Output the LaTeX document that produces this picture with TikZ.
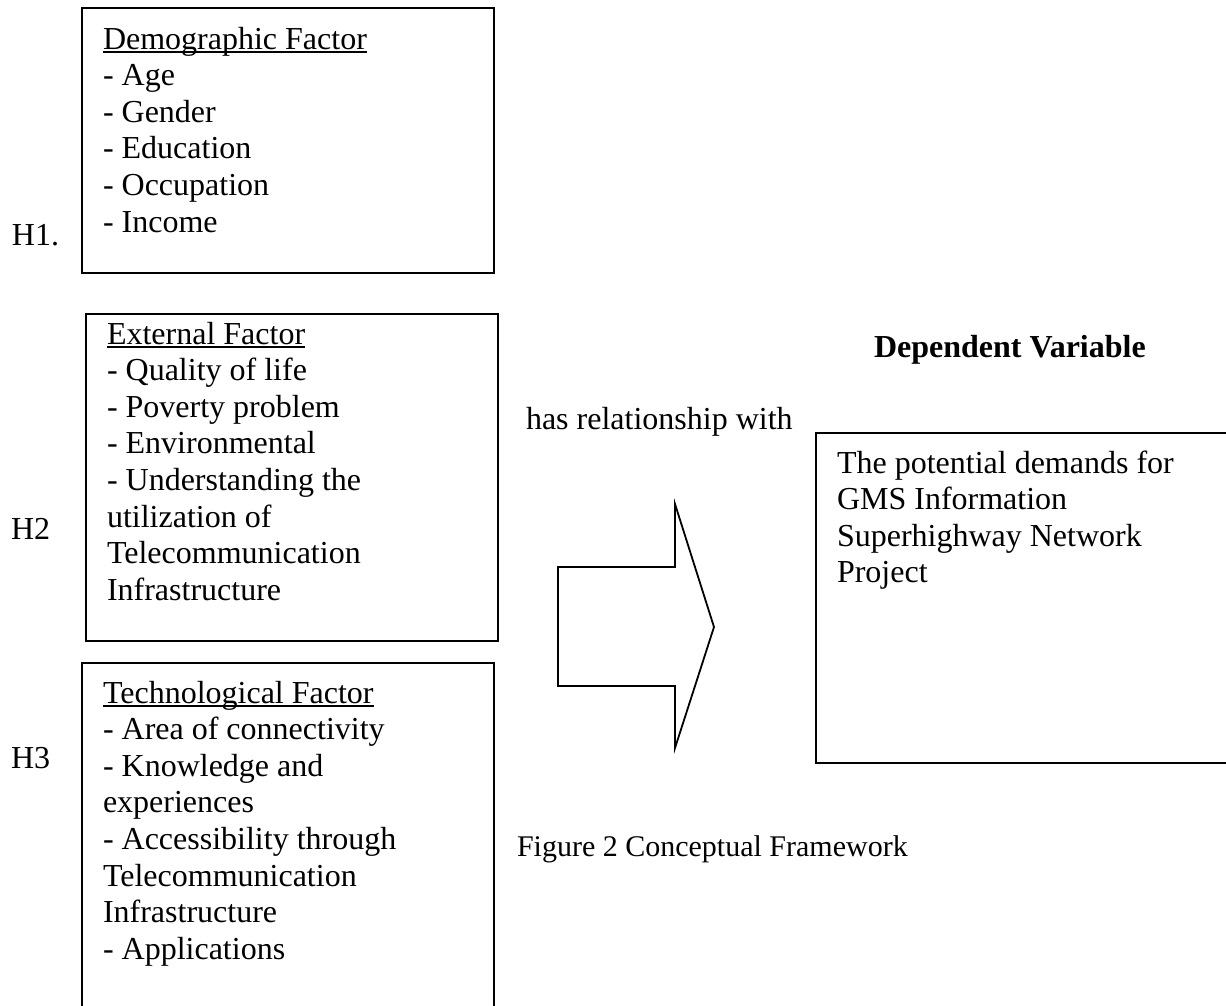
\documentclass[tikz,border=0pt]{standalone}
\usepackage{fontspec}
\setmainfont{Liberation Serif}
\usetikzlibrary{positioning}

% underlined heading: a thin rule just below the baseline
\newlength\headulwd
\newcommand\ulhead[1]{\settowidth\headulwd{#1}\rlap{\rule[-3.5pt]{\headulwd}{1.6pt}}#1}
% fixes the height of the first line so that north anchors sit at a known offset
\newcommand\firstln{\rule{0pt}{25pt}}

\tikzset{
  every node/.style={inner sep=0pt, outer sep=0pt},
  bodytext/.style={font=\fontsize{32}{36.6}\selectfont, align=left, anchor=north west},
  labeltext/.style={font=\fontsize{32}{36.6}\selectfont, anchor=base west},
  frame/.style={draw=black, line width=2pt, rectangle, anchor=north west},
  bigarrow/.style={draw=black, line width=1.8pt, line join=miter},
}

\begin{document}
\begin{tikzpicture}[x=1pt, y=-1pt]
  \useasboundingbox (0,0) rectangle (1226,1005);
  \clip (0,0) rectangle (1226,1005);

  % factor boxes on the left
  \node[frame, minimum width=412pt, minimum height=265pt] (demobox) at (82,8) {};
  \node[frame, minimum width=412pt, minimum height=327pt] (extbox)  at (86,314) {};
  \node[frame, minimum width=412pt, minimum height=380pt] (techbox) at (82,663) {};
  % dependent variable box
  \node[frame, minimum width=430pt, minimum height=330pt] (depbox)  at (816,433) {};

  % box contents
  \node[bodytext] (demotext) at (103,49-25) {\firstln\ulhead{Demographic Factor}\\
    - Age\\ - Gender\\ - Education\\ - Occupation\\ - Income};
  \node[bodytext] (exttext) at (107,344-25) {\firstln\ulhead{External Factor}\\
    - Quality of life\\ - Poverty problem\\ - Environmental\\
    - Understanding the\\ utilization of\\ Telecommunication\\ Infrastructure};
  \node[bodytext] (techtext) at (103,703-25) {\firstln\ulhead{Technological Factor}\\
    - Area of connectivity\\ - Knowledge and\\ experiences\\
    - Accessibility through\\ Telecommunication\\ Infrastructure\\ - Applications};
  \node[bodytext] (deptext) at (837,473-25) {\firstln The potential demands for\\
    GMS Information\\ Superhighway Network\\ Project};

  % hypothesis labels
  \node[labeltext] (h1) at (12,245) {H1.};
  \node[labeltext] (h2) at (11,539) {H2};
  \node[labeltext] (h3) at (11,768) {H3};

  % headings and caption
  \node[labeltext, font=\fontsize{32}{36.6}\selectfont\bfseries] (deptitle) at (874,357) {Dependent Variable};
  \node[labeltext] (relation) at (526,429) {has relationship with};
  \node[labeltext, font=\fontsize{30}{34}\selectfont] (caption) at (517,856) {Figure 2 Conceptual Framework};

  % block arrow pointing to the dependent variable
  \coordinate (tail) at (558,627);
  \coordinate (tip) at (714,627);
  \draw[bigarrow] (558,567) -- (675,567) -- (675,504) -- (tip)
    -- (675,748) -- (675,686) -- (558,686) -- cycle;
\end{tikzpicture}
\end{document}
